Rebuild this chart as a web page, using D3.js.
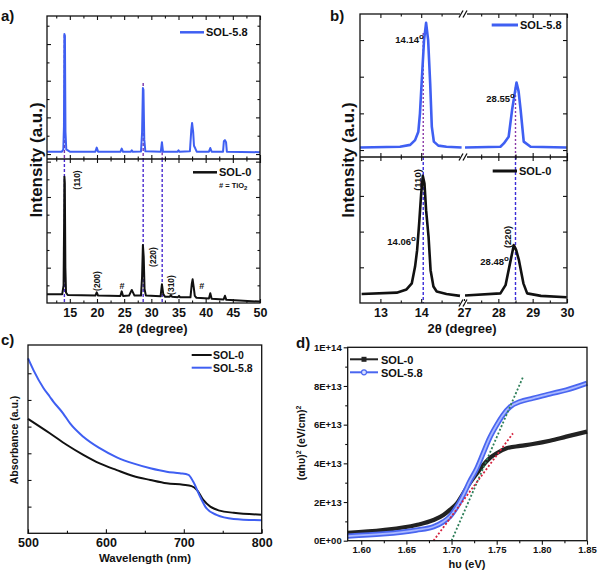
<!DOCTYPE html>
<html><head><meta charset="utf-8">
<script src="https://cdn.jsdelivr.net/npm/d3@7"></script>
<style>
body{margin:0;background:#fff}
text{font-family:Arial,"Liberation Sans",sans-serif;font-weight:bold;fill:#111}
.tk line,.tk path{stroke:#111;stroke-width:1.1}
.tk path{display:none}
</style>
</head><body>
<svg id="c" width="600" height="571" xmlns="http://www.w3.org/2000/svg"></svg>
<script>
// ---------------- DATA ----------------
// Panel a : XRD full range (arbitrary intensity units)
const aXTicks = [15,20,25,30,35,40,45,50];
const aXMinor = [12.5,17.5,22.5,27.5,32.5,37.5,42.5,47.5];
const aSol58 = [[10.8,0.12],[13.5,0.12],[13.8,0.25],[13.92,1.5],[14.0,6.55],[14.1,6.45],[14.2,1.2],[14.35,0.25],[15,0.13],
 [19.7,0.13],[19.95,0.35],[20.2,0.13],[24.3,0.12],[24.55,0.3],[24.8,0.12],[26.2,0.12],[26.4,0.2],[26.6,0.12],
 [28.1,0.14],[28.3,1.2],[28.45,3.6],[28.55,3.5],[28.7,0.8],[28.9,0.15],
 [31.75,0.13],[31.95,0.65],[32.15,0.13],[34.8,0.12],[35.0,0.2],[35.2,0.12],
 [37.1,0.15],[37.35,1.3],[37.5,1.7],[37.7,1.2],[37.85,0.45],[38.1,0.3],[38.35,0.13],
 [40.6,0.13],[40.85,0.33],[41.1,0.13],[43.2,0.13],[43.35,0.7],[43.55,0.76],[43.75,0.65],[43.9,0.13],[50,0.1]];
const aSol0 = [[10.8,0.5],[13.6,0.5],[13.85,1.0],[13.95,4.5],[14.0,7.15],[14.08,6.8],[14.18,2.0],[14.3,0.6],[14.6,0.45],
 [19.7,0.42],[19.95,0.6],[20.2,0.42],[24.3,0.4],[24.55,0.66],[24.8,0.4],[25.9,0.42],[26.4,0.74],[26.9,0.42],
 [28.1,0.42],[28.3,1.5],[28.45,3.28],[28.6,2.6],[28.75,0.8],[29.0,0.42],
 [31.7,0.38],[31.95,1.06],[32.2,0.5],[32.5,0.36],[33.4,0.36],[33.6,0.45],[33.8,0.35],[34.9,0.33],[35.1,0.4],[35.3,0.32],
 [37.2,0.32],[37.45,1.1],[37.6,1.34],[37.8,0.9],[38.0,0.4],[38.3,0.3],
 [40.6,0.25],[40.85,0.55],[41.1,0.24],[43.3,0.2],[43.55,0.41],[43.8,0.18],[50,0.08]];
const aRefX = [14.0, 28.5, 32.0];
const aRefTop = [6.5, 3.87, 0.65];

// Panel b : zoomed XRD with axis break
const bXTicksL = [13,14], bXMinorL = [13.5,14.5];
const bXTicksR = [27,28,29,30], bXMinorR = [27.5,28.5,29.5];
const bSol58L = [[12.5,0.07],[13.48,0.09],[13.73,0.14],[13.85,0.27],[13.93,0.5],[13.97,1.0],[14.01,1.82],[14.07,3.0],[14.12,3.47],
 [14.17,3.0],[14.22,1.82],[14.26,0.64],[14.31,0.23],[14.42,0.12],[14.62,0.09],[14.99,0.07]];
const bSol58R = [[27.03,0.07],[28.06,0.09],[28.16,0.18],[28.30,0.36],[28.40,1.09],[28.47,1.5],[28.53,1.84],[28.59,1.6],[28.65,1.09],
 [28.74,0.23],[28.94,0.09],[29.99,0.07]];
const bSol0L = [[12.54,0.25],[13.4,0.29],[13.64,0.38],[13.77,0.55],[13.85,1.02],[13.9,1.48],[13.95,2.23],[14.0,3.07],[14.04,3.56],
 [14.08,3.35],[14.12,2.6],[14.18,1.86],[14.23,0.92],[14.3,0.46],[14.38,0.32],[14.62,0.25],[14.95,0.2]];
const bSol0R = [[27.03,0.21],[28.06,0.27],[28.21,0.5],[28.34,1.11],[28.45,1.62],[28.52,1.48],[28.6,1.2],[28.73,0.55],[28.84,0.27],
 [29.24,0.2],[29.99,0.16]];
const bRefL = 14.05, bRefR = 28.5;
const bRefTopL = 3.19, bRefTopR = 1.72;

// Panel c : absorbance
const cXTicks = [500,600,700,800], cXMinor = [550,650,750];
const cSol0 = [[500,4.29],[528,3.75],[550,3.31],[571,2.94],[592,2.62],[614,2.37],[635,2.15],[657,2.0],[678,1.875],[699,1.82],
 [710,1.77],[717,1.62],[725,1.25],[734,1.0],[746,0.85],[764,0.77],[800,0.70]];
const cSol58 = [[500,6.56],[507,6.12],[520,5.44],[528,5.12],[532.5,4.94],[545,4.5],[554,4.12],[571,3.62],[592,3.19],[614,2.85],
 [635,2.62],[657,2.44],[678,2.31],[695,2.25],[706,2.19],[712,1.94],[721,1.37],[729,0.94],[742,0.69],[764,0.54],[800,0.49]];

// Panel d : Tauc plot ((αhυ)^2 in units of 1E+13)
const dXTicks = [1.60,1.65,1.70,1.75,1.80,1.85];
const dXMinor = [1.625,1.675,1.725,1.775,1.825];
const dYTicks = [0,2,4,6,8,10];
const dYLabels = ["0E+00","2E+13","4E+13","6E+13","8E+13","1E+14"];
const dYMinor = [1,3,5,7,9];
const dSol0 = [[1.585,0.41],[1.624,0.55],[1.661,0.81],[1.680,1.07],[1.691,1.33],[1.698,1.59],[1.706,1.93],[1.713,2.45],[1.720,2.97],
 [1.728,3.48],[1.735,3.91],[1.742,4.26],[1.750,4.52],[1.761,4.78],[1.776,4.90],[1.790,5.0],[1.809,5.17],[1.827,5.38],[1.850,5.64]];
const dSol58 = [[1.585,0.24],[1.624,0.35],[1.661,0.55],[1.680,0.72],[1.691,0.98],[1.698,1.24],[1.706,1.76],[1.713,2.36],[1.720,3.05],
 [1.728,3.74],[1.735,4.52],[1.742,5.29],[1.750,5.98],[1.757,6.5],[1.765,6.93],[1.776,7.19],[1.790,7.36],[1.809,7.59],[1.827,7.79],[1.850,8.14]];
const dFitGreen = [[1.700,0],[1.779,8.45]];
const dFitRed = [[1.680,0],[1.768,5.55]];

// ---------------- DRAW ----------------
const BLUE = "#3f5ff2", BLACK = "#111";
const svg = d3.select("#c");

function ticks(g, axisFn, scale, vals, len, labels, pad, fs) {
  const ax = axisFn(scale).tickValues(vals).tickSizeInner(len).tickSizeOuter(0).tickPadding(pad || 3);
  if (labels === null) ax.tickFormat("");
  else if (labels) ax.tickFormat((d, i) => labels[i]);
  else ax.tickFormat(d3.format("d"));
  const s = g.append("g").attr("class", "tk").call(ax);
  s.selectAll("text").style("font-size", (fs || 12) + "px").style("font-family", "Arial, 'Liberation Sans', sans-serif").style("font-weight", "bold").attr("fill", "#111");
  return s;
}
function box(x0, y0, x1, y1) {
  svg.append("rect").attr("x", x0).attr("y", y0).attr("width", x1 - x0).attr("height", y1 - y0)
    .attr("fill", "none").attr("stroke", "#111").attr("stroke-width", 1.3);
}
function label(txt, x, y, fs, anchor, rot) {
  const t = svg.append("text").attr("x", x).attr("y", y).style("font-size", fs + "px").attr("text-anchor", anchor || "start").text(txt);
  if (rot) t.attr("transform", `rotate(${rot},${x},${y})`);
  return t;
}

// ===== Panel a =====
const aX = d3.scaleLinear().domain([10.8, 50]).range([47, 260]);
const aYu = d3.scaleLinear().domain([-0.27, 7.53]).range([159, 16]);
const aYl = d3.scaleLinear().domain([0, 8.15]).range([303, 159]);
const lineA_u = d3.line().x(d => aX(d[0])).y(d => aYu(d[1]));
const lineA_l = d3.line().x(d => aX(d[0])).y(d => aYl(d[1]));

aRefX.forEach((v, i) => {
  svg.append("line").attr("x1", aX(v)).attr("x2", aX(v)).attr("y1", aYu(aRefTop[i])).attr("y2", 159)
    .attr("stroke", "#7a35a8").attr("stroke-width", 1.4).attr("stroke-dasharray", "3,2");
  svg.append("line").attr("x1", aX(v)).attr("x2", aX(v)).attr("y1", 159).attr("y2", 303)
    .attr("stroke", "#4a2bd0").attr("stroke-width", 1.4).attr("stroke-dasharray", "3,2");
});
svg.append("path").datum(aSol58).attr("d", lineA_u).attr("fill", "none").attr("stroke", BLUE).attr("stroke-width", 2).attr("stroke-linejoin", "round");
svg.append("path").datum(aSol0).attr("d", lineA_l).attr("fill", "none").attr("stroke", BLACK).attr("stroke-width", 2).attr("stroke-linejoin", "round");

{
  const gB = svg.append("g").attr("transform", "translate(0,303)");
  ticks(gB, d3.axisBottom, aX, aXTicks, -4, undefined, 5, 12.5);
  ticks(gB, d3.axisBottom, aX, aXMinor, -2.5, null);
  const gT = svg.append("g").attr("transform", "translate(0,16)");
  ticks(gT, d3.axisTop, aX, aXTicks, -4, null); ticks(gT, d3.axisTop, aX, aXMinor, -2.5, null);
  const gM1 = svg.append("g").attr("transform", "translate(0,159)");
  ticks(gM1, d3.axisBottom, aX, aXTicks, -4, null); ticks(gM1, d3.axisBottom, aX, aXMinor, -2.5, null);
  ticks(gM1, d3.axisTop, aX, aXTicks, -4, null); ticks(gM1, d3.axisTop, aX, aXMinor, -2.5, null);
  const uMaj = [0,2,4,6], uMin = [1,3,5,7];
  const lMaj = [2,4,6,8], lMin = [1,3,5,7];
  const gL = svg.append("g").attr("transform", "translate(47,0)");
  ticks(gL, d3.axisLeft, aYu, uMaj, -4, null); ticks(gL, d3.axisLeft, aYu, uMin, -2.5, null);
  ticks(gL, d3.axisLeft, aYl, lMaj, -4, null); ticks(gL, d3.axisLeft, aYl, lMin, -2.5, null);
  const gR = svg.append("g").attr("transform", "translate(260,0)");
  ticks(gR, d3.axisRight, aYu, uMaj, -4, null); ticks(gR, d3.axisRight, aYu, uMin, -2.5, null);
  ticks(gR, d3.axisRight, aYl, lMaj, -4, null); ticks(gR, d3.axisRight, aYl, lMin, -2.5, null);
}
box(47, 16, 260, 303);
svg.append("line").attr("x1", 47).attr("x2", 260).attr("y1", 159).attr("y2", 159).attr("stroke", "#111").attr("stroke-width", 1.3);

svg.append("line").attr("x1", 180).attr("x2", 204).attr("y1", 32.3).attr("y2", 32.3).attr("stroke", BLUE).attr("stroke-width", 2.5);
label("SOL-5.8", 206, 36.3, 11);
svg.append("line").attr("x1", 193).attr("x2", 217).attr("y1", 172.3).attr("y2", 172.3).attr("stroke", BLACK).attr("stroke-width", 2.5);
label("SOL-0", 219, 176.3, 11);
{
  const t = label("# = TiO", 219, 187.5, 7.5);
  t.append("tspan").attr("dy", 2).style("font-size", "6px").text("2");
}
label("(110)", 80, 180, 8.5, "middle", -90);
label("(200)", 100, 281, 8.5, "middle", -90);
label("(220)", 155.5, 257, 8.5, "middle", -90);
label("(310)", 174, 285, 8.5, "middle", -90);
label("#", aX(24.6), 289, 9, "middle");
label("#", aX(39.3), 289, 9, "middle");
label("Intensity (a.u.)", 42, 160, 17, "middle", -90);
label("2θ (degree)", 153, 332.5, 13, "middle");
label("a)", 1, 21, 15);

// ===== Panel b =====
const bXL = d3.scaleLinear().domain([12.5, 15]).range([360, 462]);
const bXR = d3.scaleLinear().domain([27, 30]).range([464, 567]);
const bYu = d3.scaleLinear().domain([-0.19, 3.71]).range([157, 14]);
const bYl = d3.scaleLinear().domain([0, 4.09]).range([303, 157]);

[[bXL(bRefL), bYu(bRefTopL)], [bXR(bRefR), bYu(bRefTopR)]].forEach(p => {
  svg.append("line").attr("x1", p[0]).attr("x2", p[0]).attr("y1", p[1]).attr("y2", 157)
    .attr("stroke", "#8a3aa8").attr("stroke-width", 1.4).attr("stroke-dasharray", "2,2");
  svg.append("line").attr("x1", p[0]).attr("x2", p[0]).attr("y1", 157).attr("y2", 303)
    .attr("stroke", "#3a2bd8").attr("stroke-width", 1.4).attr("stroke-dasharray", "3,2");
});
const lnB = (sx, sy) => d3.line().x(d => sx(d[0])).y(d => sy(d[1]));
[[bSol58L, bXL, bYu, BLUE], [bSol58R, bXR, bYu, BLUE], [bSol0L, bXL, bYl, BLACK], [bSol0R, bXR, bYl, BLACK]].forEach(s => {
  svg.append("path").datum(s[0]).attr("d", lnB(s[1], s[2])).attr("fill", "none").attr("stroke", s[3]).attr("stroke-width", 2.6).attr("stroke-linejoin", "round");
});
{
  const gB = svg.append("g").attr("transform", "translate(0,303)");
  ticks(gB, d3.axisBottom, bXL, bXTicksL, -4, undefined, 5, 12.5);
  ticks(gB, d3.axisBottom, bXR, bXTicksR, -4, undefined, 5, 12.5);
  ticks(gB, d3.axisBottom, bXL, bXMinorL, -2.5, null);
  ticks(gB, d3.axisBottom, bXR, bXMinorR, -2.5, null);
  [[d3.axisTop, 14], [d3.axisBottom, 157], [d3.axisTop, 157]].forEach(a => {
    const g = svg.append("g").attr("transform", `translate(0,${a[1]})`);
    ticks(g, a[0], bXL, bXTicksL, -4, null); ticks(g, a[0], bXR, bXTicksR.slice(1), -4, null);
    ticks(g, a[0], bXL, bXMinorL, -2.5, null); ticks(g, a[0], bXR, bXMinorR, -2.5, null);
  });
  const uT = [0,1,2,3], lT = [1,2,3,4];
  const gL = svg.append("g").attr("transform", "translate(360,0)");
  ticks(gL, d3.axisLeft, bYu, uT, -4, null); ticks(gL, d3.axisLeft, bYl, lT, -4, null);
  const gR = svg.append("g").attr("transform", "translate(567,0)");
  ticks(gR, d3.axisRight, bYu, uT, -4, null); ticks(gR, d3.axisRight, bYl, lT, -4, null);
}
box(360, 14, 567, 303);
svg.append("line").attr("x1", 360).attr("x2", 567).attr("y1", 157).attr("y2", 157).attr("stroke", "#111").attr("stroke-width", 1.3);
[14, 157, 303].forEach(y => {
  svg.append("rect").attr("x", 460).attr("y", y - 2).attr("width", 7).attr("height", 4).attr("fill", "#fff");
  [461, 465].forEach(x => svg.append("line").attr("x1", x - 2).attr("x2", x + 2).attr("y1", y + 3.5).attr("y2", y - 3.5).attr("stroke", "#111").attr("stroke-width", 1.3));
});
svg.append("line").attr("x1", 491.7).attr("x2", 518).attr("y1", 25).attr("y2", 25).attr("stroke", BLUE).attr("stroke-width", 3);
label("SOL-5.8", 520, 29, 11);
svg.append("line").attr("x1", 492.7).attr("x2", 517).attr("y1", 171).attr("y2", 171).attr("stroke", BLACK).attr("stroke-width", 3);
label("SOL-0", 519, 175, 11);
function deg(txt, x, y) {
  const t = label(txt, x, y, 9.5, "end");
  t.append("tspan").attr("dy", -4).style("font-size", "8px").text("o");
  return t;
}
deg("14.14", 424, 43); deg("14.06", 416, 245); deg("28.55", 515, 102); deg("28.48", 509, 265);
label("(110)", 421, 180, 9.5, "middle", -90);
label("(220)", 511, 237, 9.5, "middle", -90);
label("Intensity (a.u.)", 354, 160, 17, "middle", -90);
label("2θ (degree)", 462, 332.5, 13, "middle");
label("b)", 330, 21, 15);

// ===== Panel c =====
const cX = d3.scaleLinear().domain([500, 800]).range([28, 261.7]);
const cY = d3.scaleLinear().domain([0, 7.06]).range([533.3, 345]);
const lnC = d3.line().x(d => cX(d[0])).y(d => cY(d[1])).curve(d3.curveMonotoneX);
svg.append("path").datum(cSol0).attr("d", lnC).attr("fill", "none").attr("stroke", BLACK).attr("stroke-width", 2);
svg.append("path").datum(cSol58).attr("d", lnC).attr("fill", "none").attr("stroke", BLUE).attr("stroke-width", 2);
{
  const gB = svg.append("g").attr("transform", "translate(0,533.3)");
  ticks(gB, d3.axisBottom, cX, cXTicks, -4, undefined, 5, 12.5);
  ticks(gB, d3.axisBottom, cX, cXMinor, -2.5, null);
  const gL = svg.append("g").attr("transform", "translate(28,0)");
  ticks(gL, d3.axisLeft, cY, [1,2,3,4,5,6], -3.5, null);
}
box(28, 345, 261.7, 533.3);
svg.append("line").attr("x1", 191.7).attr("x2", 211.7).attr("y1", 355).attr("y2", 355).attr("stroke", BLACK).attr("stroke-width", 2);
label("SOL-0", 213, 359, 10.5);
svg.append("line").attr("x1", 191.7).attr("x2", 211.7).attr("y1", 367.7).attr("y2", 367.7).attr("stroke", BLUE).attr("stroke-width", 2);
label("SOL-5.8", 213, 371.7, 10.5);
label("Absorbance (a.u.)", 18, 440, 10.5, "middle", -90);
label("Wavelength (nm)", 145, 562, 11.5, "middle");
label("c)", 1, 345, 15);

// ===== Panel d =====
const dX = d3.scaleLinear().domain([1.585, 1.85]).range([347.7, 587]);
const dY = d3.scaleLinear().domain([0, 10]).range([540.7, 347.3]);
const lnD = d3.line().x(d => dX(d[0])).y(d => dY(d[1])).curve(d3.curveMonotoneX);
svg.append("path").datum(dSol0).attr("d", lnD).attr("fill", "none").attr("stroke", "#222").attr("stroke-width", 4.2);
svg.append("path").datum(dSol58).attr("d", lnD).attr("fill", "none").attr("stroke", "#4a66f0").attr("stroke-width", 5.2);
svg.append("path").datum(dSol58).attr("d", lnD).attr("fill", "none").attr("stroke", "#a9b8ff").attr("stroke-width", 1.8);
svg.append("path").datum(dFitGreen).attr("d", d3.line().x(d => dX(d[0])).y(d => dY(d[1]))).attr("stroke", "#2f7f5a").attr("stroke-width", 1.8).attr("stroke-dasharray", "2,2").attr("fill", "none");
svg.append("path").datum(dFitRed).attr("d", d3.line().x(d => dX(d[0])).y(d => dY(d[1]))).attr("stroke", "#d4203c").attr("stroke-width", 1.8).attr("stroke-dasharray", "2,2").attr("fill", "none");
{
  const gB = svg.append("g").attr("transform", "translate(0,540.7)");
  ticks(gB, d3.axisBottom, dX, dXTicks, 4, dXTicks.map(v => v.toFixed(2)), 1.5, 9.5);
  ticks(gB, d3.axisBottom, dX, dXMinor, 2.5, null);
  const gL = svg.append("g").attr("transform", "translate(347.7,0)");
  ticks(gL, d3.axisLeft, dY, dYTicks, 4, dYLabels, 2, 9.5);
  ticks(gL, d3.axisLeft, dY, dYMinor, 2.5, null);
}
box(347.7, 347.3, 587, 540.7);
svg.append("line").attr("x1", 350).attr("x2", 378).attr("y1", 359.3).attr("y2", 359.3).attr("stroke", "#222").attr("stroke-width", 2);
svg.append("rect").attr("x", 361.5).attr("y", 356.8).attr("width", 5).attr("height", 5).attr("fill", "#222");
label("SOL-0", 381, 363.5, 11);
svg.append("line").attr("x1", 350).attr("x2", 378).attr("y1", 372.3).attr("y2", 372.3).attr("stroke", "#4a66f0").attr("stroke-width", 2);
svg.append("circle").attr("cx", 364).attr("cy", 372.3).attr("r", 2.5).attr("fill", "#d8e0ff").attr("stroke", "#4a66f0").attr("stroke-width", 1.2);
label("SOL-5.8", 381, 376.5, 11);
{
  const t = label("(αhυ)", 305, 443, 10.5, "middle", -90);
  t.append("tspan").attr("dy", -4).style("font-size", "7px").text("2");
  t.append("tspan").attr("dy", 4).text(" (eV/cm)");
  t.append("tspan").attr("dy", -4).style("font-size", "7px").text("2");
}
label("hυ (eV)", 467, 567.5, 11, "middle");
label("d)", 296, 348, 15);
</script>
</body></html>
